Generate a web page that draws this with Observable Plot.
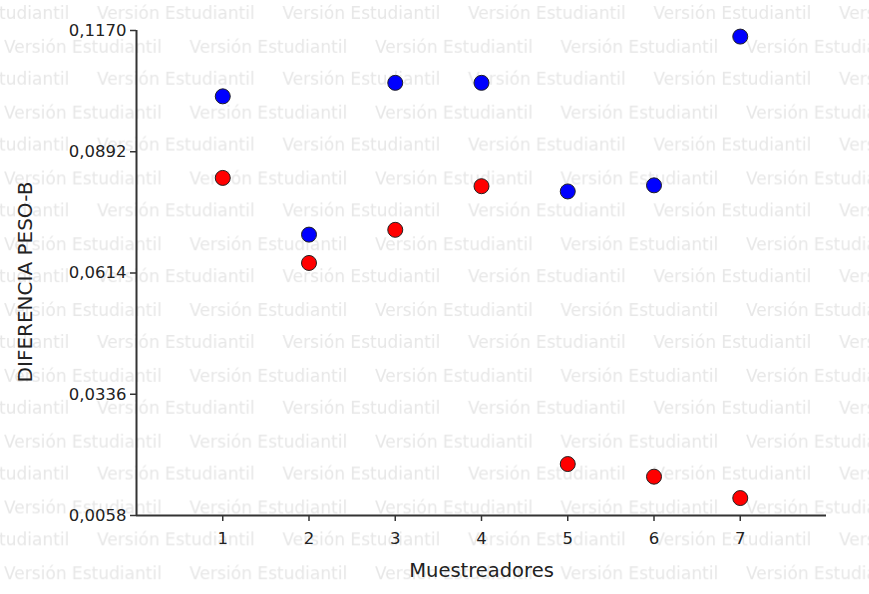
<!DOCTYPE html>
<html><head><meta charset="utf-8">
<script src="https://cdn.jsdelivr.net/npm/d3@7"></script>
<script src="https://cdn.jsdelivr.net/npm/@observablehq/plot@0.6"></script>
<style>
body{margin:0;background:#fff;}
#wrap{position:relative;width:869px;height:594px;overflow:hidden;font-family:"DejaVu Sans",sans-serif;}
#wm{position:absolute;left:0;top:0;}
#chart{position:absolute;left:0;top:0;}
</style></head><body>
<div id="wrap">
<svg id="wm" width="869" height="594" xmlns="http://www.w3.org/2000/svg">
  <defs>
    <pattern id="wmp" patternUnits="userSpaceOnUse" x="0" y="0" width="185.5" height="65.8">
      <g font-family="DejaVu Sans" font-size="17" fill="#e7e7e7">
        <text x="97" y="19">Versión Estudiantil</text>
        <text x="-88.5" y="19">Versión Estudiantil</text>
        <text x="4" y="53">Versión Estudiantil</text>
        <text x="189.5" y="53">Versión Estudiantil</text>
      </g>
    </pattern>
  </defs>
  <rect width="869" height="594" fill="url(#wmp)"/>
</svg>
<div id="chart"></div>
</div>
<script>
const muestreadores = [1, 2, 3, 4, 5, 6, 7];
const serieAzul = [0.1019, 0.0702, 0.1050, 0.1050, 0.0801, 0.0815, 0.1156];
const serieRoja = [0.0832, 0.0637, 0.0713, 0.0813, 0.0176, 0.0147, 0.0098];
const xTicks = [1, 2, 3, 4, 5, 6, 7];
const yTicks = [0.0058, 0.0336, 0.0614, 0.0892, 0.1170];
const yTickLabels = ["0,0058", "0,0336", "0,0614", "0,0892", "0,1170"];

const data = [
  ...muestreadores.map((m, i) => ({x: m, y: serieAzul[i], s: "azul"})),
  ...muestreadores.map((m, i) => ({x: m, y: serieRoja[i], s: "roja"}))
];

const plot = Plot.plot({
  width: 869, height: 594,
  marginLeft: 136, marginRight: 43, marginTop: 30, marginBottom: 79,
  style: {background: "transparent", fontFamily: "DejaVu Sans", color: "#222", overflow: "visible"},
  x: {domain: [0, 8]},
  y: {domain: [0.0058, 0.1170]},
  color: {domain: ["azul", "roja"], range: ["#0000ff", "#ff0000"]},
  marks: [
    Plot.axisY({ticks: yTicks, tickFormat: d => yTickLabels[yTicks.indexOf(d)], tickSize: 6, tickPadding: 4, fontSize: 16.5, stroke: "#333", strokeWidth: 1.5, fill: "#222", label: null}),
    Plot.axisX({ticks: xTicks, tickFormat: d => String(d), tickSize: 6, tickPadding: 11, fontSize: 16.5, stroke: "#333", strokeWidth: 1.5, fill: "#222", label: null}),
    Plot.ruleX([0], {stroke: "#333", strokeWidth: 2}),
    Plot.ruleY([0.0058], {stroke: "#333", strokeWidth: 2}),
    Plot.text(["DIFERENCIA PESO-B"], {frameAnchor: "left", textAnchor: "middle", rotate: -90, dx: -111, dy: 9, fontSize: 20, fill: "#222"}),
    Plot.text(["Muestreadores"], {frameAnchor: "bottom", dy: 61, fontSize: 19.5, fill: "#222"}),
    Plot.dot(data, {x: "x", y: "y", r: 7.5, fill: "s", stroke: "#222", strokeWidth: 1})
  ]
});
document.getElementById("chart").appendChild(plot);
</script>
</body></html>
